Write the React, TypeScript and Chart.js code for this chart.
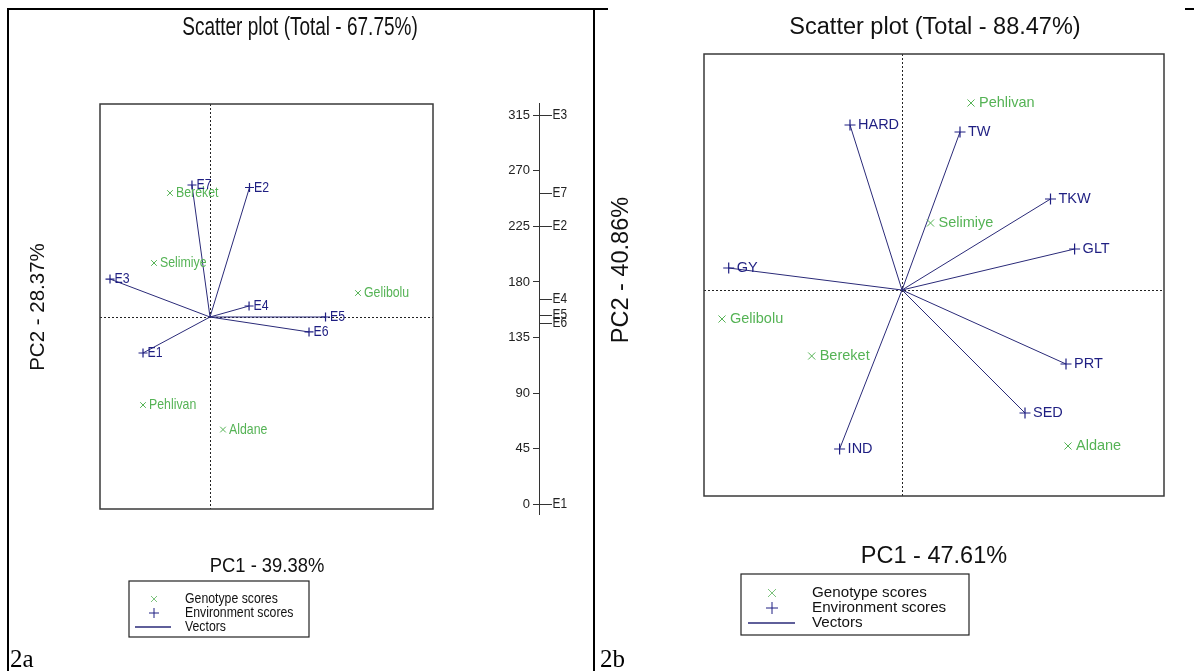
import React, { useEffect, useRef } from 'react';
import { Chart, registerables } from 'chart.js';

Chart.register(...registerables);

const FONT = '"Liberation Sans", Arial, Helvetica, sans-serif';
const GREEN = '#55b355';
const NAVY = '#1f1f82';
const VEC = '#2a2a78';

// ---- Panel 2a data ----
const genoNamesA = ['Bereket', 'Selimiye', 'Gelibolu', 'Pehlivan', 'Aldane'];
const genoXA = [-0.364, -0.509, 1.345, -0.609, 0.118];
const genoYA = [1.127, 0.491, 0.218, -0.8, -1.023];
const envNamesA = ['E7', 'E2', 'E3', 'E4', 'E5', 'E6', 'E1'];
const envXA = [-0.164, 0.359, -0.909, 0.355, 1.05, 0.9, -0.609];
const envYA = [1.2, 1.177, 0.345, 0.1, 0.0, -0.136, -0.327];

// angle scale beside panel 2a
const angleTicks = [0, 45, 90, 135, 180, 225, 270, 315];
const angleNames = ['E3', 'E7', 'E2', 'E4', 'E5', 'E6', 'E1'];
const angleValues = [315, 252, 225, 166, 153, 147, 0];

// ---- Panel 2b data ----
const genoNamesB = ['Pehlivan', 'Selimiye', 'Gelibolu', 'Bereket', 'Aldane'];
const genoXB = [0.69, 0.285, -1.8, -0.903, 1.66];
const genoYB = [1.87, 0.67, -0.29, -0.66, -1.56];
const envNamesB = ['HARD', 'TW', 'TKW', 'GLT', 'GY', 'PRT', 'SED', 'IND'];
const envXB = [-0.52, 0.58, 1.485, 1.726, -1.733, 1.64, 1.23, -0.624];
const envYB = [1.65, 1.58, 0.91, 0.41, 0.22, -0.74, -1.23, -1.59];

type Legend = { l: number; t: number; r: number; b: number; mx: number; lx1: number; lx2: number; tx: number; rows: number[]; size: number; sx: number; xr: number; pr: number };
type Cfg = {
  ox: number; oy: number; w: number; h: number;
  pad: { left: number; top: number; right: number; bottom: number };
  xMin: number; xMax: number; yMin: number; yMax: number;
  genoNames: string[]; genoX: number[]; genoY: number[];
  envNames: string[]; envX: number[]; envY: number[];
  title: string; titleX: number; titleY: number; titleSize: number; titleSX: number;
  xLabel: string; xLabelX: number; xLabelY: number; xLabelSize: number; xLabelSX: number;
  yLabel: string; yLabelX: number; yLabelY: number; yLabelSize: number;
  labelSize: number; labelSX: number; genoGap: number; envGap: number;
  plusR: number; crossR: number; boxW: number;
  legend: Legend;
};

const cfgA: Cfg = {
  ox: 9, oy: 10, w: 520, h: 645,
  pad: { left: 91, top: 94, right: 96, bottom: 146 },
  xMin: -1.0, xMax: 2.027, yMin: -1.745, yMax: 1.936,
  genoNames: genoNamesA, genoX: genoXA, genoY: genoYA,
  envNames: envNamesA, envX: envXA, envY: envYA,
  title: 'Scatter plot (Total - 67.75%)', titleX: 300, titleY: 28, titleSize: 25, titleSX: 0.76,
  xLabel: 'PC1 - 39.38%', xLabelX: 267, xLabelY: 566, xLabelSize: 20, xLabelSX: 0.92,
  yLabel: 'PC2 - 28.37%', yLabelX: 38, yLabelY: 307, yLabelSize: 20.5,
  labelSize: 14.5, labelSX: 0.85, genoGap: 6, envGap: 4.5,
  plusR: 4.5, crossR: 4, boxW: 1.5,
  legend: { l: 129, t: 581, r: 309, b: 637, mx: 154, lx1: 135, lx2: 171, tx: 185, rows: [599, 613, 627], size: 13.8, sx: 0.89, xr: 3, pr: 5 },
};

const cfgB: Cfg = {
  ox: 598, oy: 10, w: 592, h: 655,
  pad: { left: 106, top: 44, right: 26, bottom: 169 },
  xMin: -1.98, xMax: 2.62, yMin: -2.06, yMax: 2.36,
  genoNames: genoNamesB, genoX: genoXB, genoY: genoYB,
  envNames: envNamesB, envX: envXB, envY: envYB,
  title: 'Scatter plot (Total - 88.47%)', titleX: 935, titleY: 28, titleSize: 23.5, titleSX: 1,
  xLabel: 'PC1 - 47.61%', xLabelX: 934, xLabelY: 557, xLabelSize: 23.5, xLabelSX: 1,
  yLabel: 'PC2 - 40.86%', yLabelX: 622, yLabelY: 270, yLabelSize: 23.5,
  labelSize: 14.5, labelSX: 1, genoGap: 8, envGap: 8,
  plusR: 5.5, crossR: 5, boxW: 1.5,
  legend: { l: 741, t: 574, r: 969, b: 635, mx: 772, lx1: 748, lx2: 795, tx: 812, rows: [593, 608, 623], size: 15.2, sx: 1, xr: 4, pr: 6 },
};

function drawText(ctx: CanvasRenderingContext2D, s: string, x: number, y: number, size: number, color: string, align: CanvasTextAlign, sx = 1, rot = 0) {
  ctx.save();
  ctx.translate(x, y);
  if (rot) ctx.rotate(rot);
  ctx.scale(sx, 1);
  ctx.font = `${size}px ${FONT}`;
  ctx.fillStyle = color;
  ctx.textAlign = align;
  ctx.textBaseline = 'middle';
  ctx.fillText(s, 0, 0);
  ctx.restore();
}

function Biplot({ cfg }: { cfg: Cfg }) {
  const ref = useRef<HTMLCanvasElement>(null);
  useEffect(() => {
    const c = cfg;
    const vecSets = c.envNames.map((_, i) => ({
      label: 'v' + i,
      data: [{ x: 0, y: 0 }, { x: c.envX[i], y: c.envY[i] }],
      showLine: true,
      borderColor: VEC,
      borderWidth: 1,
      pointRadius: 0,
      order: 3,
    }));
    const plugin = {
      id: 'biplotDeco',
      beforeDatasetsDraw(chart: any) {
        const ctx = chart.ctx as CanvasRenderingContext2D;
        const a = chart.chartArea;
        const x0 = chart.scales.x.getPixelForValue(0);
        const y0 = chart.scales.y.getPixelForValue(0);
        ctx.save();
        ctx.strokeStyle = '#222';
        ctx.lineWidth = 1;
        ctx.setLineDash([2, 2]);
        ctx.beginPath();
        ctx.moveTo(a.left, Math.round(y0) + 0.5);
        ctx.lineTo(a.right, Math.round(y0) + 0.5);
        ctx.moveTo(Math.round(x0) + 0.5, a.top);
        ctx.lineTo(Math.round(x0) + 0.5, a.bottom);
        ctx.stroke();
        ctx.restore();
      },
      afterDatasetsDraw(chart: any) {
        const ctx = chart.ctx as CanvasRenderingContext2D;
        const a = chart.chartArea;
        ctx.save();
        ctx.strokeStyle = '#3a3a3a';
        ctx.lineWidth = c.boxW;
        ctx.strokeRect(a.left, a.top, a.right - a.left, a.bottom - a.top);
        ctx.restore();
        const gm = chart.getDatasetMeta(0);
        gm.data.forEach((p: any, i: number) => {
          drawText(ctx, c.genoNames[i], p.x + c.genoGap, p.y, c.labelSize, GREEN, 'left', c.labelSX);
        });
        const em = chart.getDatasetMeta(1);
        em.data.forEach((p: any, i: number) => {
          drawText(ctx, c.envNames[i], p.x + c.envGap, p.y, c.labelSize, NAVY, 'left', c.labelSX);
        });
        const ox = c.ox, oy = c.oy;
        drawText(ctx, c.title, c.titleX - ox, c.titleY - oy, c.titleSize, '#111', 'center', c.titleSX);
        drawText(ctx, c.xLabel, c.xLabelX - ox, c.xLabelY - oy, c.xLabelSize, '#111', 'center', c.xLabelSX);
        drawText(ctx, c.yLabel, c.yLabelX - ox, c.yLabelY - oy, c.yLabelSize, '#111', 'center', 1, -Math.PI / 2);
        // legend
        const L = c.legend;
        ctx.save();
        ctx.strokeStyle = '#222';
        ctx.lineWidth = 1.2;
        ctx.strokeRect(L.l - ox, L.t - oy, L.r - L.l, L.b - L.t);
        const mx = L.mx - ox;
        const r0 = L.rows[0] - oy, r1 = L.rows[1] - oy, r2 = L.rows[2] - oy;
        ctx.lineWidth = 1;
        ctx.strokeStyle = '#7cc27c';
        ctx.beginPath();
        ctx.moveTo(mx - L.xr, r0 - L.xr); ctx.lineTo(mx + L.xr, r0 + L.xr);
        ctx.moveTo(mx - L.xr, r0 + L.xr); ctx.lineTo(mx + L.xr, r0 - L.xr);
        ctx.stroke();
        ctx.strokeStyle = NAVY;
        ctx.beginPath();
        ctx.moveTo(mx - L.pr, r1); ctx.lineTo(mx + L.pr, r1);
        ctx.moveTo(mx, r1 - L.pr); ctx.lineTo(mx, r1 + L.pr);
        ctx.stroke();
        ctx.strokeStyle = VEC;
        ctx.lineWidth = 1.3;
        ctx.beginPath();
        ctx.moveTo(L.lx1 - ox, r2); ctx.lineTo(L.lx2 - ox, r2);
        ctx.stroke();
        ctx.restore();
        drawText(ctx, 'Genotype scores', L.tx - ox, r0, L.size, '#111', 'left', L.sx);
        drawText(ctx, 'Environment scores', L.tx - ox, r1, L.size, '#111', 'left', L.sx);
        drawText(ctx, 'Vectors', L.tx - ox, r2, L.size, '#111', 'left', L.sx);
      },
    };
    const chart = new Chart(ref.current as HTMLCanvasElement, {
      type: 'scatter',
      data: {
        datasets: [
          {
            label: 'Genotype scores',
            data: c.genoX.map((x, i) => ({ x, y: c.genoY[i] })),
            pointStyle: 'crossRot',
            pointRadius: c.crossR,
            borderColor: GREEN,
            pointBorderColor: GREEN,
            pointBorderWidth: 1,
            order: 1,
          },
          {
            label: 'Environment scores',
            data: c.envX.map((x, i) => ({ x, y: c.envY[i] })),
            pointStyle: 'cross',
            pointRadius: c.plusR,
            borderColor: NAVY,
            pointBorderColor: NAVY,
            pointBorderWidth: 1.2,
            order: 2,
          },
          ...vecSets,
        ] as any,
      },
      options: {
        animation: false,
        responsive: false,
        devicePixelRatio: 1,
        layout: { padding: c.pad },
        plugins: { legend: { display: false }, tooltip: { enabled: false }, title: { display: false } },
        scales: {
          x: { type: 'linear', min: c.xMin, max: c.xMax, display: false },
          y: { type: 'linear', min: c.yMin, max: c.yMax, display: false },
        },
        events: [],
      },
      plugins: [plugin],
    });
    return () => chart.destroy();
  }, [cfg]);
  return (
    <canvas
      ref={ref}
      width={cfg.w}
      height={cfg.h}
      style={{ position: 'absolute', left: cfg.ox, top: cfg.oy, width: cfg.w, height: cfg.h }}
    />
  );
}

function AngleAxis() {
  const ref = useRef<HTMLCanvasElement>(null);
  useEffect(() => {
    const plugin = {
      id: 'angleMarks',
      afterDatasetsDraw(chart: any) {
        const ctx = chart.ctx as CanvasRenderingContext2D;
        const meta = chart.getDatasetMeta(0);
        meta.data.forEach((p: any, i: number) => {
          ctx.save();
          ctx.strokeStyle = '#333';
          ctx.lineWidth = 1;
          ctx.beginPath();
          ctx.moveTo(p.x, Math.round(p.y) + 0.5);
          ctx.lineTo(p.x + 13, Math.round(p.y) + 0.5);
          ctx.stroke();
          ctx.restore();
          drawText(ctx, angleNames[i], p.x + 13.5, p.y, 14, '#222', 'left', 0.85);
        });
      },
    };
    const chart = new Chart(ref.current as HTMLCanvasElement, {
      type: 'scatter',
      data: {
        datasets: [
          {
            label: 'angles',
            data: angleValues.map((v) => ({ x: 0, y: v })),
            pointRadius: 0,
          },
        ],
      },
      options: {
        animation: false,
        responsive: false,
        devicePixelRatio: 1,
        layout: { padding: { left: 9, top: 13, bottom: 16, right: 0 } },
        plugins: { legend: { display: false }, tooltip: { enabled: false } },
        events: [],
        scales: {
          x: { type: 'linear', min: 0, max: 1, display: false },
          y: {
            type: 'linear',
            min: -8,
            max: 325,
            position: 'left',
            afterBuildTicks: (axis: any) => {
              axis.ticks = angleTicks.map((v) => ({ value: v }));
            },
            afterFit: (axis: any) => {
              axis.width = 40;
            },
            ticks: { font: { size: 13, family: FONT }, color: '#222', padding: 3 },
            grid: { drawOnChartArea: false, drawTicks: true, tickLength: 6, color: '#333', lineWidth: 1 },
            border: { display: true, color: '#333', width: 1 },
          },
        },
      },
      plugins: [plugin],
    });
    return () => chart.destroy();
  }, []);
  return (
    <canvas
      ref={ref}
      width={100}
      height={440}
      style={{ position: 'absolute', left: 490, top: 90, width: 100, height: 440 }}
    />
  );
}

const line = (l: number, t: number, w: number, h: number): React.CSSProperties => ({
  position: 'absolute', left: l, top: t, width: w, height: h, background: '#000',
});

export default function App() {
  const serif: React.CSSProperties = {
    position: 'absolute',
    font: '25px "Liberation Serif", "Times New Roman", serif',
    color: '#000',
    lineHeight: '28px',
  };
  return (
    <div style={{ position: 'absolute', left: 0, top: 0, width: 1194, height: 671, background: '#fff', overflow: 'hidden' }}>
      <div style={line(7, 8, 2, 663)} />
      <div style={line(7, 8, 601, 2)} />
      <div style={line(593, 8, 2, 663)} />
      <div style={line(1185, 8, 9, 2)} />
      <Biplot cfg={cfgA} />
      <AngleAxis />
      <Biplot cfg={cfgB} />
      <div style={{ ...serif, left: 10, top: 645 }}>2a</div>
      <div style={{ ...serif, left: 600, top: 645 }}>2b</div>
    </div>
  );
}
